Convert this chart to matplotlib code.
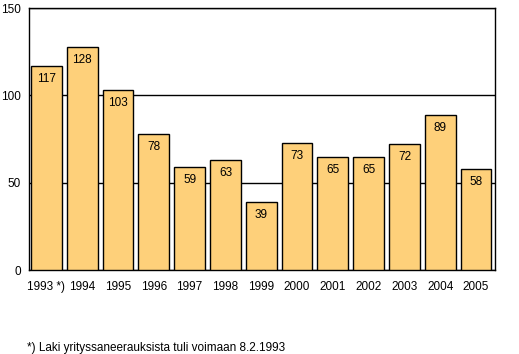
import matplotlib
matplotlib.use("Agg")
import matplotlib.pyplot as plt

years = ["1993 *)", "1994", "1995", "1996", "1997", "1998", "1999",
         "2000", "2001", "2002", "2003", "2004", "2005"]
values = [117, 128, 103, 78, 59, 63, 39, 73, 65, 65, 72, 89, 58]
yticks = [0, 50, 100, 150]
footnote = "*) Laki yrityssaneerauksista tuli voimaan 8.2.1993"

plt.rcParams['font.family'] = ['Liberation Sans', 'DejaVu Sans']
fig = plt.figure(figsize=(5.19, 3.54), dpi=100)
ax = fig.add_axes([0.0559, 0.237, 0.898, 0.74])

x = list(range(len(years)))
ax.bar(x, values, width=0.86, color="#FED07A", edgecolor="black",
       linewidth=1.0, zorder=3)
for xi, v in zip(x, values):
    ax.text(xi, v - 4, str(v), ha="center", va="top", fontsize=8.5, zorder=4)

ax.set_xlim(-0.486, len(years) - 1 + 0.53)
ax.set_ylim(0, 150)
ax.set_yticks(yticks)
ax.set_yticklabels([str(t) for t in yticks], fontsize=8.5)
ax.set_xticks(x)
ax.set_xticklabels(years, fontsize=8.5)
ax.tick_params(axis='x', length=0, pad=7.5)
ax.tick_params(axis='y', length=0, pad=6)
ax.grid(axis='y', color='black', linewidth=1.0, zorder=0)
for s in ax.spines.values():
    s.set_linewidth(1.0)
    s.set_color('black')

fig.text(0.052, 0.017, footnote, fontsize=8.5, ha="left", va="center")
fig.savefig("out.png", dpi=100)
